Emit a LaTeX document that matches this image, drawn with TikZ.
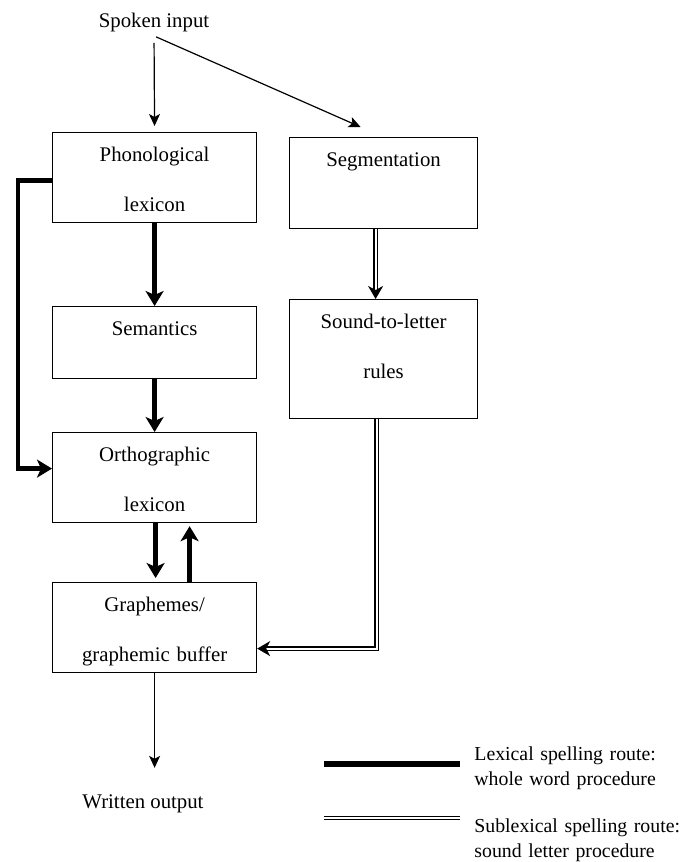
\documentclass[tikz,border=0pt]{standalone}
\usepackage{fontspec}
\setmainfont{Liberation Serif}
\usetikzlibrary{arrows.meta}

\tikzstyle{module} = [draw,line width=0.6pt,inner sep=0pt,anchor=north west,align=center,text height=14.5pt,font=\fontsize{10.4}{12.5}\selectfont]
\tikzstyle{plain} = [inner sep=0pt,font=\fontsize{10.4}{12.5}\selectfont]
\tikzstyle{legendtext} = [inner sep=0pt,text width=120pt,align=left,anchor=base west,font=\fontsize{9.9}{12.5}\selectfont]
\tikzstyle{thinarrow} = [line width=0.6pt,-{Stealth[length=6pt,width=5.5pt,inset=1.5pt]}]
\tikzstyle{lexical} = [line width=2.2pt,-{Stealth[length=7.5pt,width=9pt,inset=2pt]}]
\tikzstyle{sublexical} = [line width=0.7pt,double distance=1pt,-{Stealth[length=6.5pt,width=7.5pt,inset=2pt]}]

\begin{document}
\begin{tikzpicture}[x=0.5pt,y=-0.5pt]
		\useasboundingbox (0,0) rectangle (686,862);
		\node[plain,anchor=base] (spoken) at (154,27) {Spoken input};
		\node[module,text width=102pt,text depth=30.5pt] (phon) at (52,132) {Phonological\\[12.5pt]lexicon};
		\node[module,text width=94pt,text depth=31pt] (seg) at (289,137) {Segmentation};
		\node[module,text width=102pt,text depth=21.5pt] (sem) at (52,306) {Semantics};
		\node[module,text width=94pt,text depth=45pt] (rules) at (289,299) {Sound-to-letter\\[12.5pt]rules};
		\node[module,text width=102pt,text depth=30.5pt] (orth) at (52,432) {Orthographic\\[12.5pt]lexicon};
		\node[module,text width=102pt,text depth=30.5pt] (graph) at (52,582) {Graphemes/\\[12.5pt]graphemic buffer};
		\node[plain,anchor=base] (written) at (143,808) {Written output};
		\draw[thinarrow,shorten <=5.5pt,shorten >=3pt] (spoken.south) -- (phon.north);
		\draw[thinarrow] ([xshift=1pt,yshift=-2.5pt]spoken.south) -- ([xshift=-11.5pt,yshift=5pt]seg.north);
		\draw[lexical] (phon.south) -- (sem.north);
		\draw[lexical] (sem.south) -- (orth.north);
		\draw[lexical,shorten >=2pt] ([xshift=0.5pt]orth.south) -- ([xshift=0.5pt]graph.north);
		\draw[lexical,shorten >=1.5pt] ([xshift=17.5pt]graph.north) -- ([xshift=17.5pt]orth.south);
		\draw[lexical] ([yshift=-1.5pt]phon.west) -- ++(-17pt,0) |- ([yshift=4.5pt]orth.west);
		\draw[sublexical] ([xshift=-4pt]seg.south) -- ([xshift=-4pt]rules.north);
		\draw[sublexical] ([xshift=-3.5pt]rules.south) |- ([yshift=-10.5pt]graph.east);
		\draw[thinarrow,shorten >=13pt] (graph.south) -- (graph.south |- written.north);
		
		\coordinate (lexA) at (324,764);
		\coordinate (lexB) at (460,764);
		\coordinate (subA) at (324,818);
		\coordinate (subB) at (460,818);
		\draw[line width=2.8pt] (lexA) -- (lexB);
		\draw[line width=0.7pt,double distance=1pt] (subA) -- (subB);
		\node[legendtext] (lexlabel) at (474,760) {Lexical spelling route:\\whole word procedure};
		\node[legendtext] (sublabel) at (474,832) {Sublexical spelling route:\\sound letter procedure};
		\end{tikzpicture}
\end{document}
